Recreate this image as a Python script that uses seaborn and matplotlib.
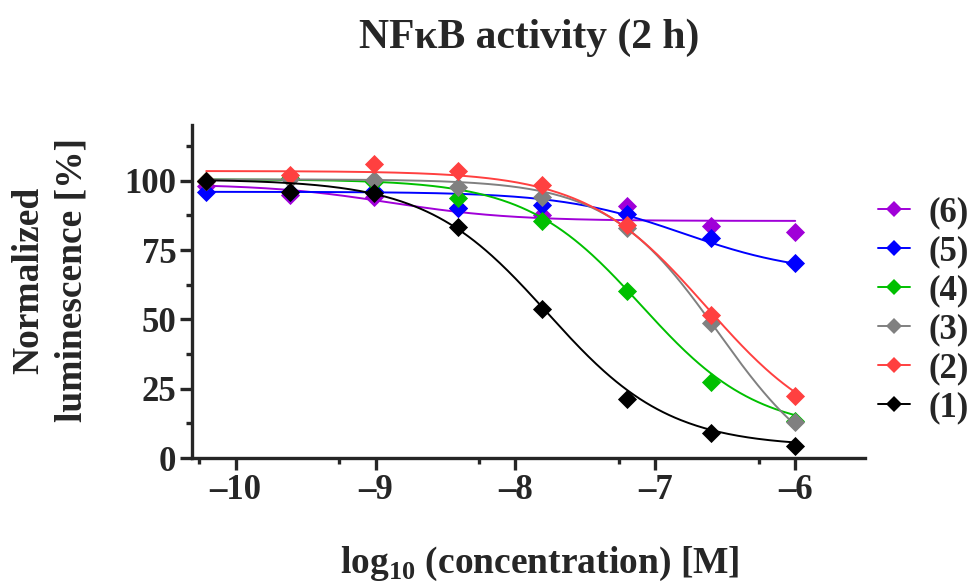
import matplotlib
matplotlib.use("Agg")
import matplotlib.pyplot as plt
from matplotlib.lines import Line2D
from matplotlib.ticker import FixedLocator
import numpy as np
import pandas as pd
import seaborn as sns

# -----------------------------
# Data
# -----------------------------
log_conc = [-10.21, -9.61, -9.01, -8.41, -7.81, -7.20, -6.60, -6.00]

labels = ["(6)", "(5)", "(4)", "(3)", "(2)", "(1)"]
colors = ["#A000D8", "#0000FF", "#00C000", "#808080", "#FF4040", "#000000"]

resp_6 = [98.0, 95.0, 94.0, 90.0, 87.7, 91.0, 83.8, 81.6]
resp_5 = [96.0, 96.0, 96.4, 90.0, 91.3, 88.0, 79.4, 70.4]
resp_4 = [100.0, 101.0, 99.5, 93.9, 85.6, 60.3, 27.4, 13.4]
resp_3 = [100.0, 100.5, 100.4, 97.8, 94.2, 83.0, 48.7, 13.0]
resp_2 = [100.0, 102.2, 106.1, 103.6, 98.6, 84.1, 51.6, 22.4]
resp_1 = [100.0, 96.0, 95.7, 83.4, 53.8, 21.3, 9.0, 4.3]
responses = [resp_6, resp_5, resp_4, resp_3, resp_2, resp_1]

# four-parameter logistic fit parameters (as shown by the fitted curves)
fit_top = [98.8, 96.0, 100.5, 100.5, 103.5, 100.5]
fit_bottom = [85.5, 66.0, 9.5, -10.0, 5.0, 4.0]
fit_logic50 = [-8.9, -6.8, -7.1, -6.55, -6.63, -7.77]
fit_hill = [1.0, 1.0, 1.05, 1.1, 1.0, 1.0]

# -----------------------------
# Build long tables
# -----------------------------
points = pd.DataFrame({
    "x": np.tile(log_conc, len(labels)),
    "y": np.concatenate(responses),
    "compound": np.repeat(labels, len(log_conc)),
})

x_fit = np.linspace(log_conc[0], log_conc[-1], 300)
curves = []
for lab, top, bot, c, h in zip(labels, fit_top, fit_bottom, fit_logic50, fit_hill):
    y_fit = bot + (top - bot) / (1 + 10 ** ((x_fit - c) * h))
    curves.append(pd.DataFrame({"x": x_fit, "y": y_fit, "compound": lab}))
curves = pd.concat(curves, ignore_index=True)

# -----------------------------
# Plot
# -----------------------------
sns.set_style("ticks")
plt.rcParams["font.family"] = ["Liberation Serif", "DejaVu Serif"]
plt.rcParams["font.weight"] = "bold"
plt.rcParams["mathtext.fontset"] = "custom"
plt.rcParams["mathtext.rm"] = "Liberation Serif:bold"
plt.rcParams["mathtext.bf"] = "Liberation Serif:bold"

fig = plt.figure(figsize=(9.71, 5.88), dpi=100)
ax = fig.add_axes([0.198, 0.221, 0.693, 0.566])

palette = dict(zip(labels, colors))
for i, lab in enumerate(labels):
    sns.lineplot(data=curves[curves.compound == lab], x="x", y="y",
                 color=palette[lab], lw=1.4, ax=ax, zorder=2 + 2 * i)
    sns.scatterplot(data=points[points.compound == lab], x="x", y="y",
                    color=palette[lab], marker="D", s=95, linewidth=0,
                    ax=ax, zorder=3 + 2 * i)

ax.set_xlim(-10.31, -5.5)
ax.set_ylim(0, 120)
ax.set_xticks([-10, -9, -8, -7, -6])
ax.set_xticklabels(["\u201310", "\u20139", "\u20138", "\u20137", "\u20136"])
ax.xaxis.set_minor_locator(FixedLocator([-10.26, -9.26, -8.26, -7.26, -6.26]))
ax.set_yticks([0, 25, 50, 75, 100])
ax.yaxis.set_minor_locator(FixedLocator([12.5, 37.5, 62.5, 87.5, 112.5]))

for side in ["top", "right"]:
    ax.spines[side].set_visible(False)
for side in ["left", "bottom"]:
    ax.spines[side].set_linewidth(2.4)
ax.tick_params(which="major", length=8.5, width=2.4, labelsize=25, pad=3)
ax.tick_params(which="minor", length=4.5, width=2.4)
for t in ax.get_xticklabels() + ax.get_yticklabels():
    t.set_fontweight("bold")

ax.set_xlabel("")
ax.set_ylabel("")
fig.text(0.556, 0.026, r"log$_{\mathbf{10}}$ (concentration) [M]",
         ha="center", va="baseline", fontsize=27, fontweight="bold")
fig.text(0.052, 0.524, "Normalized\nluminescence [%]", rotation=90,
         ha="center", va="center", fontsize=27, fontweight="bold",
         linespacing=1.3)
fig.text(0.545, 0.935, "NF\u03baB activity (2 h)", ha="center", va="center",
         fontsize=30, fontweight="bold")

handles = [Line2D([0], [0], color=c, lw=1.4, marker="D", markersize=8,
                  markeredgewidth=0) for c in colors]
leg = ax.legend(handles, labels, loc="center left",
                bbox_to_anchor=(1.019, 0.444), frameon=False,
                prop={"size": 25, "weight": "bold"}, borderaxespad=0,
                borderpad=0, handlelength=0.92, handletextpad=0.55,
                labelspacing=0.17)

fig.savefig("out.png", dpi=100)
